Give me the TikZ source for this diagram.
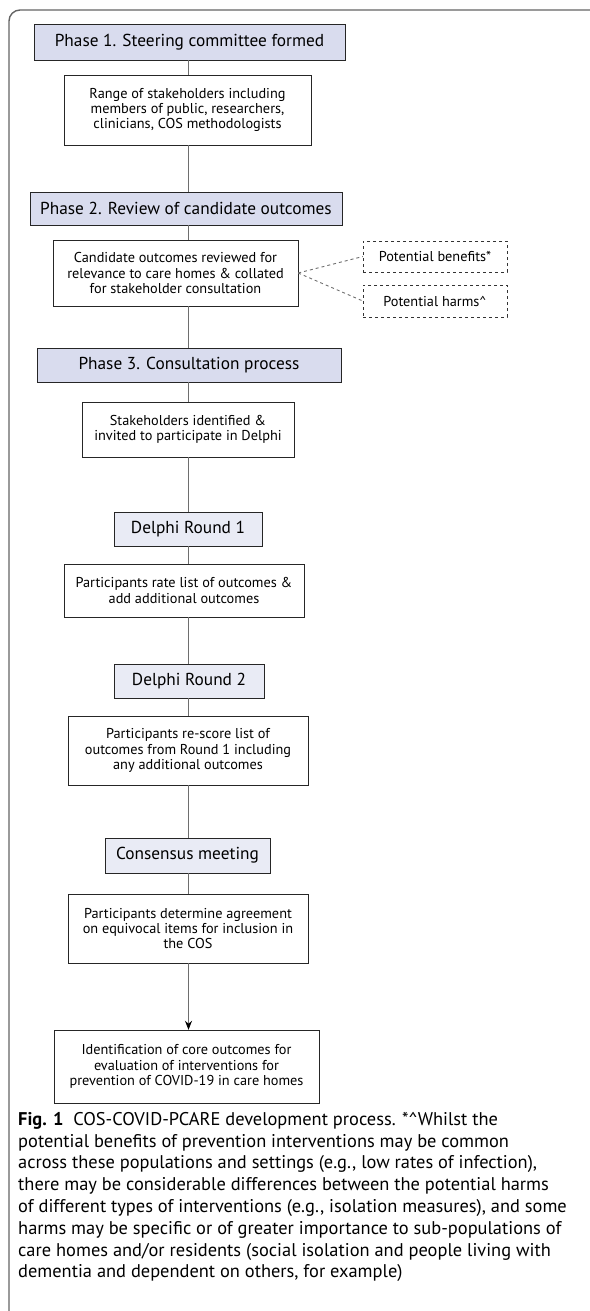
\documentclass[tikz,border=0pt]{standalone}
\usepackage{fontspec}
\setmainfont{PT Sans}
\usetikzlibrary{positioning, arrows.meta}

\definecolor{phasefill}{RGB}{217,220,238}
\definecolor{roundfill}{RGB}{233,235,245}
\definecolor{linkgray}{RGB}{110,110,110}
\definecolor{framegray}{RGB}{100,100,100}

\tikzset{
  phase/.style={draw=black!85, fill=phasefill, inner sep=0pt, align=center,
    font=\fontsize{17.3}{19}\selectfont},
  round/.style={phase, fill=roundfill},
  stepbox/.style={draw=black!85, fill=white, inner sep=0pt, align=center,
    font=\fontsize{14.3}{15.2}\selectfont},
  extra/.style={stepbox, dashed, draw=black!80},
  link/.style={draw=linkgray, line width=0.9pt},
}

\begin{document}
\begin{tikzpicture}[x=1pt, y=-1pt, >={Stealth[length=9pt, width=7pt, color=black]}]
    \useasboundingbox (0,0) rectangle (589,1311);

    % === MARCO ===
    \draw[framegray, line width=1.4pt, rounded corners=11pt]
        (600,10) -- (9,10) -- (9,1330);
    \coordinate (spine) at (188.5,0);

    % === FASE 1 ===
    \node[phase, minimum width=311, minimum height=36] (p1) at (189.5,42)
        {Phase 1. Steering committee formed};
    \node[stepbox, minimum width=247, minimum height=70] (stake) at (187.5,110)
        {Range of stakeholders including\\members of public, researchers,\\clinicians, COS methodologists};

    % === FASE 2 ===
    \node[phase, minimum width=312, minimum height=33] (p2) at (186,208.5)
        {Phase 2. Review of candidate outcomes};
    \node[stepbox, minimum width=245, minimum height=66] (cand) at (175.5,273)
        {Candidate outcomes reviewed for\\relevance to care homes \& collated\\for stakeholder consultation};
    % Cajas punteadas a la derecha
    \node[extra, minimum width=144, minimum height=31] (ben) at (435,256.5)
        {Potential benefits*};
    \node[extra, minimum width=144, minimum height=32] (harm) at (435,301)
        {Potential harms\textasciicircum};

    % === FASE 3 ===
    \node[phase, minimum width=304, minimum height=34] (p3) at (189,365)
        {Phase 3. Consultation process};
    \node[stepbox, minimum width=212, minimum height=55] (invite) at (188,429.5)
        {Stakeholders identified \&\\invited to participate in Delphi};

    % Ronda 1
    \node[round, minimum width=148, minimum height=34] (dr1) at (188,529)
        {Delphi Round 1};
    \node[stepbox, minimum width=240, minimum height=53] (rate) at (184,590.5)
        {Participants rate list of outcomes \&\\add additional outcomes};

    % Ronda 2
    \node[round, minimum width=150, minimum height=34] (dr2) at (189,681)
        {Delphi Round 2};
    \node[stepbox, minimum width=240, minimum height=69] (rescore) at (188,750.5)
        {Participants re-score list of\\outcomes from Round 1 including\\any additional outcomes};

    % Reunion de consenso
    \node[round, minimum width=165, minimum height=35] (cons) at (187.5,855.5)
        {Consensus meeting};
    \node[stepbox, minimum width=240, minimum height=69] (determ) at (188,928.5)
        {Participants determine agreement\\on equivocal items for inclusion in\\the COS};

    % Resultado final
    \node[stepbox, minimum width=265, minimum height=73] (core) at (186.5,1066.5)
        {Identification of core outcomes for\\evaluation of interventions for\\prevention of COVID-19 in care homes};

    % === CONECTORES ===
    \draw[link] (p1.south -| spine) -- (stake.north -| spine);
    \draw[link] (stake.south -| spine) -- (p2.north -| spine);
    \draw[link] (p2.south -| spine) -- (cand.north -| spine);
    \draw[link] (cand.south -| spine) -- (p3.north -| spine);
    \draw[link] (p3.south -| spine) -- (invite.north -| spine);
    \draw[link] (invite.south -| spine) -- (dr1.north -| spine);
    \draw[link] (dr1.south -| spine) -- (rate.north -| spine);
    \draw[link] (rate.south -| spine) -- (dr2.north -| spine);
    \draw[link] (dr2.south -| spine) -- (rescore.north -| spine);
    \draw[link] (rescore.south -| spine) -- (cons.north -| spine);
    \draw[link] (cons.south -| spine) -- (determ.north -| spine);
    \draw[link, ->] (determ.south -| spine) -- (core.north -| spine);

    % Lineas punteadas hacia beneficios y danos
    \draw[link, dashed] (cand.east) -- (ben.west);
    \draw[link, dashed] (cand.east) -- (harm.west);

    % === PIE DE FIGURA ===
    \node[anchor=north west, align=left, inner sep=0pt,
          font=\fontsize{18.4}{21.8}\selectfont] (caption) at (18,1112)
        {\textbf{Fig. 1}\ \ COS-COVID-PCARE development process. *\textasciicircum Whilst the\\
         potential benefits of prevention interventions may be common\\
         across these populations and settings (e.g., low rates of infection),\\
         there may be considerable differences between the potential harms\\
         of different types of interventions (e.g., isolation measures), and some\\
         harms may be specific or of greater importance to sub-populations of\\
         care homes and/or residents (social isolation and people living with\\
         dementia and dependent on others, for example)};

\end{tikzpicture}
\end{document}
